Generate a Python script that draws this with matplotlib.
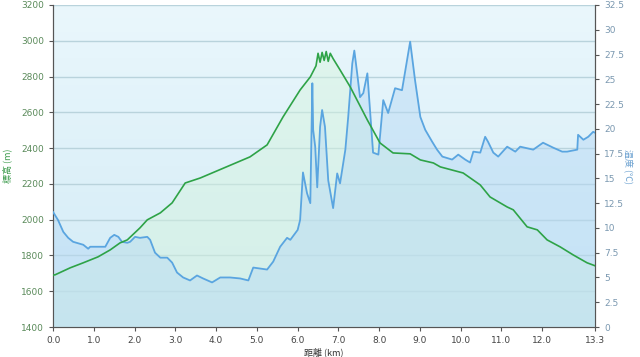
import numpy as np
import matplotlib
matplotlib.use('Agg')
import matplotlib.pyplot as plt

plt.rcParams['font.family'] = ['DejaVu Sans', 'Noto Sans CJK JP']

# elevation profile (km, m)
elev_km = [0.0, 0.05, 0.42, 0.74, 1.10, 1.40, 1.64, 1.82, 2.13, 2.31, 2.63, 2.92,
           3.24, 3.61, 4.83, 5.25, 5.64, 6.06, 6.31, 6.45, 6.50, 6.55, 6.60, 6.65,
           6.70, 6.75, 6.80, 6.87, 7.04, 7.29, 7.71, 8.02, 8.34, 8.76, 9.01, 9.33,
           9.50, 10.06, 10.48, 10.72, 11.14, 11.29, 11.63, 11.88, 12.12, 12.44,
           12.76, 13.10, 13.30]
elev_m = [1690, 1692, 1731, 1759, 1792, 1831, 1870, 1887, 1954, 1999, 2038, 2094,
          2205, 2233, 2351, 2418, 2574, 2725, 2798, 2860, 2930, 2880, 2935, 2890,
          2940, 2885, 2930, 2900, 2837, 2742, 2557, 2429, 2373, 2368, 2334, 2317,
          2295, 2261, 2194, 2127, 2071, 2055, 1960, 1943, 1887, 1848, 1803, 1759,
          1742]

# temperature (km, deg C)
temp_km = [0.0, 0.12, 0.25, 0.37, 0.49, 0.74, 0.86, 0.91, 1.15, 1.28, 1.40, 1.50,
           1.60, 1.69, 1.82, 1.89, 2.01, 2.13, 2.31, 2.38, 2.50, 2.63, 2.80, 2.92,
           3.04, 3.19, 3.36, 3.53, 3.68, 3.90, 4.10, 4.34, 4.59, 4.79, 4.91, 5.25,
           5.40, 5.57, 5.74, 5.82, 6.00, 6.06, 6.13, 6.23, 6.31, 6.36, 6.38, 6.43,
           6.48, 6.55, 6.60, 6.67, 6.75, 6.87, 6.97, 7.04, 7.17, 7.24, 7.34, 7.39,
           7.46, 7.53, 7.61, 7.71, 7.78, 7.85, 7.98, 8.10, 8.22, 8.39, 8.56, 8.76,
           8.88, 9.01, 9.13, 9.30, 9.42, 9.55, 9.79, 9.94, 10.11, 10.23, 10.31,
           10.48, 10.60, 10.67, 10.80, 10.92, 11.14, 11.34, 11.46, 11.78, 12.02,
           12.27, 12.49, 12.61, 12.86, 12.88, 13.01, 13.13, 13.25, 13.30]
temp_c = [11.6, 10.8, 9.6, 9.0, 8.6, 8.3, 7.9, 8.1, 8.1, 8.1, 9.0, 9.3,
          9.1, 8.6, 8.5, 8.6, 9.1, 9.0, 9.1, 8.8, 7.5, 7.0, 7.0, 6.5,
          5.5, 5.0, 4.7, 5.2, 4.9, 4.5, 5.0, 5.0, 4.9, 4.7, 6.0, 5.8,
          6.6, 8.1, 9.0, 8.8, 9.8, 10.8, 15.6, 13.5, 12.5, 24.6, 19.9, 18.2,
          14.1, 20.2, 21.9, 20.2, 14.8, 12.0, 15.5, 14.5, 17.9, 21.2, 26.6, 27.9,
          25.6, 23.2, 23.6, 25.6, 21.6, 17.6, 17.4, 22.9, 21.6, 24.1, 23.9, 28.8,
          24.9, 21.2, 19.9, 18.7, 17.9, 17.2, 16.9, 17.4, 16.9, 16.6, 17.7,
          17.6, 19.2, 18.7, 17.6, 17.2, 18.2, 17.7, 18.2, 17.9, 18.6,
          18.1, 17.7, 17.7, 17.9, 19.4, 18.9, 19.2, 19.7, 19.6]

x_ticks = [0, 1, 2, 3, 4, 5, 6, 7, 8, 9, 10, 11, 12, 13.3]
temp_ticks = ['0', '2.5', '5', '7.5', '10', '12.5', '15', '17.5', '20',
              '22.5', '25', '27.5', '30', '32.5']

fig = plt.figure(figsize=(6.4, 3.57), dpi=100)
ax = fig.add_axes([0.083, 0.084, 0.847, 0.902])

# background gradient
grad = np.linspace(0, 1, 256).reshape(-1, 1)
cmap = matplotlib.colors.LinearSegmentedColormap.from_list('bg', ['#d2ebf6', '#eaf7fc'])
ax.imshow(grad, aspect='auto', cmap=cmap, origin='lower',
          extent=[0, 13.3, 1400, 3200], zorder=0)

ax.set_xlim(0, 13.3)
ax.set_ylim(1400, 3200)
ax.set_yticks(np.arange(1400, 3201, 200))
ax.set_xticks(x_ticks)
ax.set_xticklabels([f'{t:.1f}' for t in x_ticks])
ax.grid(axis='y', color='#b9d3dc', linewidth=1)
ax.set_axisbelow(True)

ax2 = ax.twinx()
ax2.set_ylim(0, 32.5)
ax2.set_yticks(np.arange(0, 32.6, 2.5))
ax2.set_yticklabels(temp_ticks)
ax2.set_zorder(ax.get_zorder() + 1)
ax2.patch.set_visible(False)

# everything drawn on ax2 so the green line sits above the blue fill
ax2.fill_between(elev_km, elev_m, 1400, color='#d6f5dc', alpha=0.45, lw=0,
                 zorder=1, transform=ax.transData)
ax2.fill_between(temp_km, temp_c, 0, color='#b5d8f5', alpha=0.45, lw=0, zorder=2)
ax2.plot(temp_km, temp_c, color='#5aa5e0', lw=1.3, zorder=3)
ax2.plot(elev_km, elev_m, color='#2ea347', lw=1.2, zorder=4, transform=ax.transData)

for a in (ax, ax2):
    a.spines['top'].set_visible(False)
    for s in ('left', 'right', 'bottom'):
        a.spines[s].set_color('#555555')
    a.tick_params(length=3, width=0.8, color='#555555', labelsize=6.5)

ax.tick_params(axis='y', colors='#555555', labelcolor='#5a8a5a')
ax.tick_params(axis='x', labelcolor='#444444')
ax2.tick_params(axis='y', labelcolor='#7a98b0')

cjk = ['Noto Sans CJK JP', 'DejaVu Sans']
ax.set_ylabel('標高 (m)', color='#3a9a4a', fontsize=6.5, family=cjk)
ax.yaxis.set_label_coords(-0.076, 0.5)
ax2.set_ylabel('温度 (℃)', color='#6aa0d0', fontsize=6.5, rotation=-90, family=cjk,
               va='center')
ax2.yaxis.set_label_coords(1.061, 0.5)
ax.set_xlabel('距離 (km)', color='#333333', fontsize=6.5, family=cjk, labelpad=2)

fig.savefig('out.png', dpi=100)
